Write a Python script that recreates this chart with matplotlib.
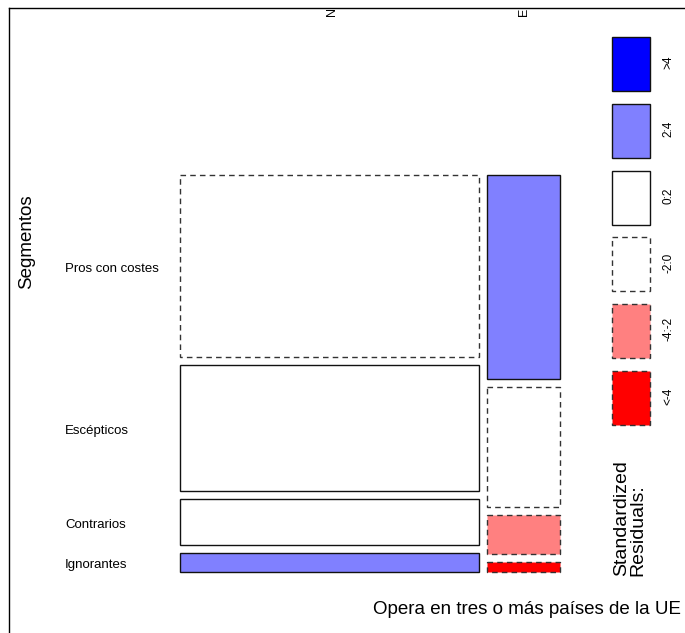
"""Mosaic plot of Segmentos vs 'Opera en tres o más países de la UE', shaded by residuals."""
import matplotlib
matplotlib.use("Agg")
import matplotlib.pyplot as plt
from matplotlib.patches import Rectangle

plt.rcParams["font.family"] = ["Liberation Sans", "DejaVu Sans"]

# columns of the mosaic (x variable) and their share of the width
columns = ["N", "E"]
col_share = [0.804, 0.196]
# rows (Segmentos), bottom to top
segments = ["Ignorantes", "Contrarios", "Escépticos", "Pros con costes"]
# conditional shares of each segment inside each column (bottom to top)
share_N = [0.051, 0.124, 0.336, 0.489]
share_E = [0.027, 0.104, 0.321, 0.548]
# standardized residuals (estimated, only their class is visible)
resid_N = [2.5, 1.5, 1.0, -1.2]
resid_E = [-5.0, -3.0, -0.5, 2.4]

legend_labels = [">4", "2:4", "0:2", "-2:0", "-4:-2", "<-4"]
legend_colors = ["#0000FF", "#8080FF", "#FFFFFF", "#FFFFFF", "#FF8080", "#FF0000"]
legend_dashed = [False, False, False, True, True, True]


def shade(r):
    if r > 4:
        return "#0000FF", False
    if r > 2:
        return "#8080FF", False
    if r > 0:
        return "#FFFFFF", False
    if r > -2:
        return "#FFFFFF", True
    if r > -4:
        return "#FF8080", True
    return "#FF0000", True


W, H = 685, 633
fig = plt.figure(figsize=(W / 100, H / 100), dpi=100)
ax = fig.add_axes([9 / W, 0, 1 - 9 / W, 1 - 8 / H])
ax.set_xlim(9, W)
ax.set_ylim(H, 8)
ax.set_xticks([])
ax.set_yticks([])
for s in ["right", "bottom"]:
    ax.spines[s].set_visible(False)
for s in ["left", "top"]:
    ax.spines[s].set_linewidth(1.0)

# mosaic area in pixel coords
x0, x1 = 180, 560
y_top, y_bot = 175, 572
gap = 8
usable_w = (x1 - x0) - gap * (len(columns) - 1)
usable_h = (y_bot - y_top) - gap * (len(segments) - 1)

x = x0
for ci, (shares, resids) in enumerate([(share_N, resid_N), (share_E, resid_E)]):
    w = usable_w * col_share[ci]
    y = y_bot
    for sh, r in zip(shares, resids):
        h = usable_h * sh
        fc, dashed = shade(r)
        ax.add_patch(Rectangle((x, y - h), w, h, facecolor=fc,
                               edgecolor="#333333" if dashed else "#111111",
                               lw=1.0, ls=(0, (4, 3)) if dashed else "-"))
        y -= h + gap
    x += w + gap

# row labels follow the N column
y = y_bot
for seg, sh in zip(segments, share_N):
    h = usable_h * sh
    ax.text(65, y - h / 2 + 3, seg, fontsize=9.5, ha="left", va="center")
    y -= h + gap

# column labels, just under the top border
for c, cx in zip(columns, [332, 524]):
    ax.text(cx, 12, c, rotation=90, fontsize=9, ha="center", va="center")

ax.text(27, 242, "Segmentos", rotation=90, fontsize=13.5, ha="center", va="center")
ax.text(373, 610, "Opera en tres o más países de la UE", fontsize=13.5,
        ha="left", va="center", clip_on=True)

# residual legend
ly = 37
for lab, fc, dashed in zip(legend_labels, legend_colors, legend_dashed):
    ax.add_patch(Rectangle((612, ly), 38, 54, facecolor=fc,
                           edgecolor="#333333" if dashed else "#111111",
                           lw=1.0, ls=(0, (4, 3)) if dashed else "-"))
    ax.text(668, ly + 25, lab, rotation=90, fontsize=8.5, ha="center", va="center")
    ly += 66.8

ax.text(630, 576, "Standardized\nResiduals:", rotation=90, fontsize=14,
        ha="center", va="bottom", multialignment="left", linespacing=0.95)

fig.savefig("out.png", dpi=100)
